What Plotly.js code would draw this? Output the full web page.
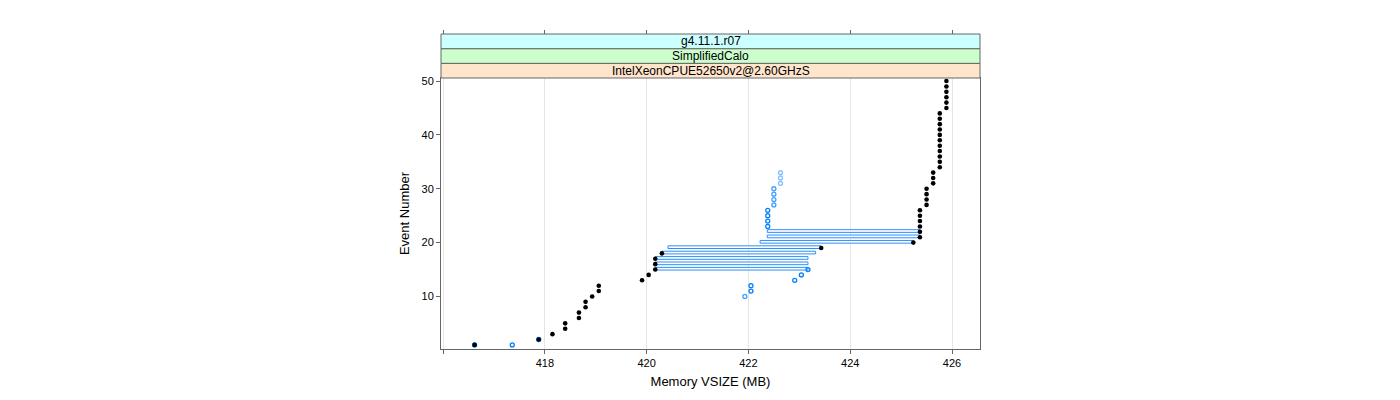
<!DOCTYPE html>
<html>
<head>
<meta charset="utf-8">
<script src="https://cdn.plot.ly/plotly-3.0.1.min.js"></script>
<style>html,body{margin:0;padding:0;background:#fff;}#chart{width:1400px;height:400px;}</style>
</head>
<body>
<div id="chart"></div>
<script>
// ---- data ----
const blackEvents = [1,2,3,4,5,6,7,8,9,10,11,12,13,14,15,16,17,18,19,20,
  21,22,23,24,25,26,27,28,29,30,31,32,33,34,35,36,37,38,39,40,
  41,42,43,44,45,46,47,48,49,50];
const blackVsize = [416.62,417.88,418.15,418.40,418.40,418.67,418.67,418.80,418.80,418.93,
  419.06,419.06,419.91,420.04,420.17,420.17,420.17,420.30,423.43,425.24,
  425.37,425.37,425.37,425.37,425.37,425.37,425.50,425.50,425.50,425.50,
  425.63,425.63,425.63,425.76,425.76,425.76,425.76,425.76,425.76,425.76,
  425.76,425.76,425.76,425.76,425.89,425.89,425.89,425.89,425.89,425.89];

const blueDarkEvents = [1,1,2,11,12,13,14,15,23,24,25,26];
const blueDarkVsize  = [416.62,417.36,417.88,422.05,422.05,422.91,423.04,423.17,422.38,422.38,422.38,422.38];
const blueMidEvents  = [10,27,28,29,30];
const blueMidVsize   = [421.93,422.50,422.50,422.50,422.50];
const blueLightEvents = [31,32,33];
const blueLightVsize  = [422.63,422.63,422.63];

const barEvents = [15,16,17,18,19,20,21,22];
const barStart  = [420.17,420.17,420.17,420.30,420.42,422.23,422.37,422.37];
const barEnd    = [423.17,423.17,423.17,423.32,423.43,425.24,425.37,425.37];

const xTickVals = [416,418,420,422,424,426];
const xTickText = ['','418','420','422','424','426'];
const yTickVals = [10,20,30,40,50];
const stripLabels = ['IntelXeonCPUE52650v2@2.60GHzS','SimplifiedCalo','g4.11.1.r07'];
const stripColors = ['#ffe5cc','#ccffcc','#ccffff'];

// ---- chart ----
const FONT = '"Liberation Sans", Arial, Helvetica, sans-serif';
const AX = '#666666';
function openCircles(xs, ys, col){
  return {type:'scatter', mode:'markers', x:xs, y:ys, hoverinfo:'skip', showlegend:false,
    marker:{symbol:'circle-open', size:4, color:col, line:{width:1.3, color:col}}};
}
const traces = [
  openCircles(blueLightVsize, blueLightEvents, '#80c0ff'),
  openCircles(blueMidVsize, blueMidEvents, '#40a0ff'),
  openCircles(blueDarkVsize, blueDarkEvents, '#0080ff'),
  {type:'bar', orientation:'h', y:barEvents, base:barStart,
   x:barEnd.map((e,i)=>e-barStart[i]), width:0.5, offset:-0.1,
   marker:{color:'#ffffff', line:{color:'#2b8fff', width:1}}, hoverinfo:'skip', showlegend:false},
  {type:'scatter', mode:'markers', x:blackVsize, y:blackEvents, hoverinfo:'skip', showlegend:false,
   marker:{symbol:'circle', size:4.6, color:'#000000', line:{width:0}}},
  {type:'scatter', mode:'markers', x:blackVsize, y:blackEvents, xaxis:'x2', hoverinfo:'skip',
   showlegend:false, marker:{opacity:0}}
];

const panelTop = 271/315;
const sh = (1-panelTop)/3;
const shapes = [], annotations = [];
for(let i=0;i<3;i++){
  shapes.push({type:'rect', xref:'paper', yref:'paper', x0:0, x1:1,
    y0:panelTop+i*sh, y1:panelTop+(i+1)*sh, fillcolor:stripColors[i], line:{color:AX, width:1}, layer:'above'});
  annotations.push({xref:'paper', yref:'paper', x:0.5, y:panelTop+(i+0.5)*sh, text:stripLabels[i],
    showarrow:false, xanchor:'center', yanchor:'middle', font:{family:FONT, size:12, color:'#000'}});
}

const layout = {
  width:1400, height:400,
  margin:{l:441, r:419.5, t:34, b:51, pad:0},
  paper_bgcolor:'#ffffff', plot_bgcolor:'#ffffff',
  barmode:'overlay', showlegend:false,
  font:{family:FONT, color:'#000'},
  xaxis:{range:[415.96,426.55], tickvals:xTickVals, ticktext:xTickText, ticks:'outside', ticklen:4,
    tickcolor:AX, tickwidth:1, showline:true, linecolor:AX, linewidth:1, mirror:true,
    showgrid:true, gridcolor:'#e6e6e6', gridwidth:1, zeroline:false,
    tickfont:{family:FONT, size:11, color:'#000'},
    title:{text:'Memory VSIZE (MB)', font:{family:FONT, size:13, color:'#000'}, standoff:8}},
  xaxis2:{overlaying:'x', matches:'x', side:'top', anchor:'free', position:1,
    tickvals:xTickVals, ticks:'outside', ticklen:4, tickcolor:AX, showticklabels:false,
    showline:false, showgrid:false, zeroline:false},
  yaxis:{domain:[0,panelTop], range:[0.24,50.57], tickvals:yTickVals, ticks:'outside', ticklen:4,
    tickcolor:AX, showline:true, linecolor:AX, linewidth:1, mirror:true, showgrid:false, zeroline:false,
    tickfont:{family:FONT, size:11, color:'#000'},
    title:{text:'Event Number', font:{family:FONT, size:13, color:'#000'}, standoff:8}},
  shapes:shapes, annotations:annotations
};
Plotly.newPlot('chart', traces, layout, {displayModeBar:false, staticPlot:true});
</script>
</body>
</html>
